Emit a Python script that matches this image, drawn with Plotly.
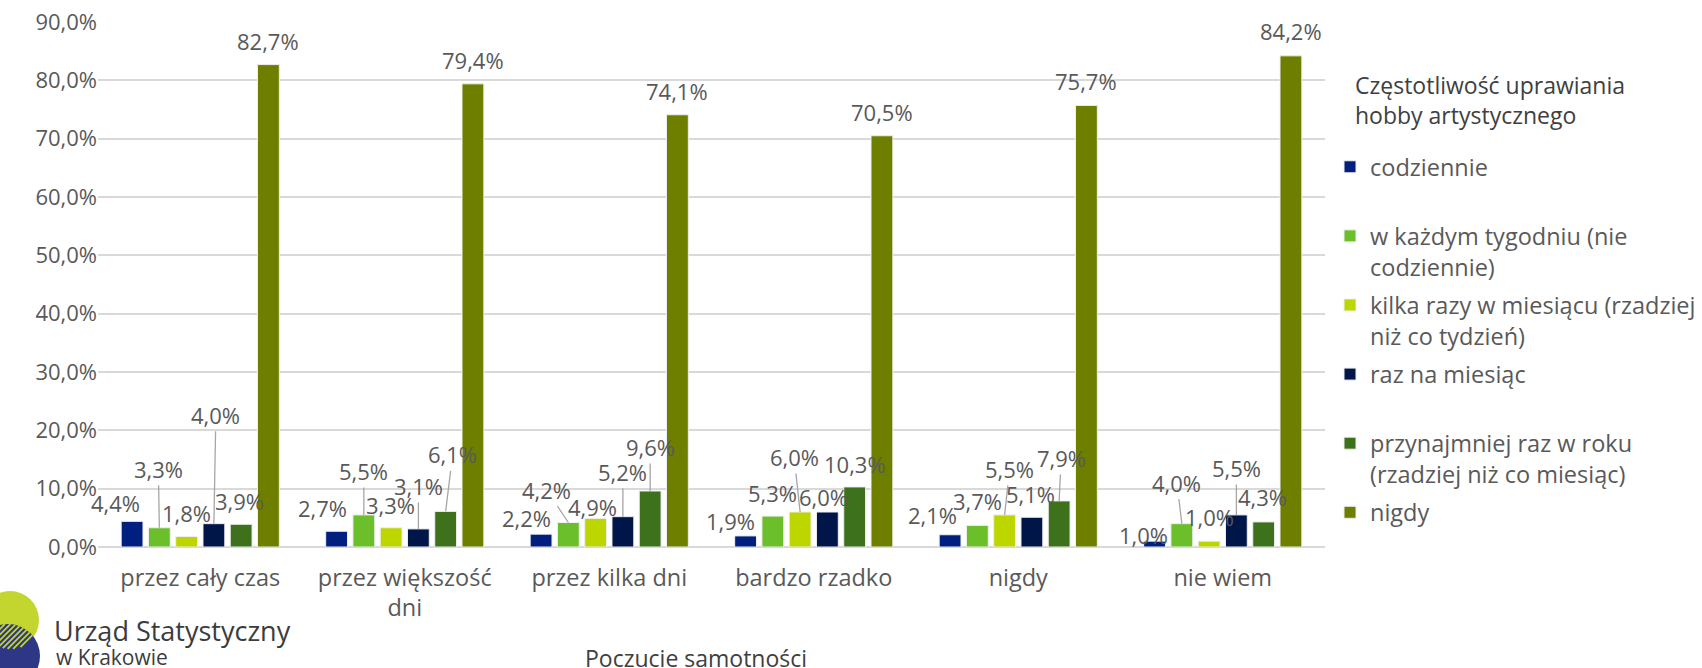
import numpy as np
import plotly.graph_objects as go

# --- data ---
categories = [
    "przez cały czas",
    "przez większość<br>dni",
    "przez kilka dni",
    "bardzo rzadko",
    "nigdy",
    "nie wiem",
]
series_names = [
    "codziennie",
    "w każdym tygodniu (nie<br>codziennie)",
    "kilka razy w miesiącu (rzadziej<br>niż co tydzień)",
    "raz na miesiąc",
    "przynajmniej raz w roku<br>(rzadziej niż co miesiąc)",
    "nigdy",
]
codziennie = [4.4, 2.7, 2.2, 1.9, 2.1, 1.0]
w_kazdym_tygodniu = [3.3, 5.5, 4.2, 5.3, 3.7, 4.0]
kilka_razy_w_miesiacu = [1.8, 3.3, 4.9, 6.0, 5.5, 1.0]
raz_na_miesiac = [4.0, 3.1, 5.2, 6.0, 5.1, 5.5]
raz_w_roku = [3.9, 6.1, 9.6, 10.3, 7.9, 4.3]
nigdy = [82.7, 79.4, 74.1, 70.5, 75.7, 84.2]
series_values = [codziennie, w_kazdym_tygodniu, kilka_razy_w_miesiacu,
                 raz_na_miesiac, raz_w_roku, nigdy]
y_ticks = [0, 10, 20, 30, 40, 50, 60, 70, 80, 90]
legend_title = "Częstotliwość uprawiania<br>hobby artystycznego"
x_title = "Poczucie samotności"

COLORS = ["#001f7e", "#6abf2b", "#bdd600", "#001548", "#3d711c", "#6e7f00"]
TEXT = "#595959"
GRID = "#d9d9d9"
LOGO_YELLOW = "#c3d52f"
LOGO_BLUE = "#2e3686"
FONT = "Open Sans"
FS_NUM = 22     # numbers (ticks, data labels)
FS_TXT = 23     # axis / legend titles
FS_CAT = 23.5   # category tick labels
FS_LEG = 23.5   # legend entries

W, H = 1702, 668
M_L, M_R, M_T, M_B = 98, 377, 22, 121
PLOT_W = W - M_L - M_R
PLOT_H = H - M_T - M_B
BARGAP = 0.2
SLOT_PX = PLOT_W / len(categories) * (1 - BARGAP) / len(series_values)

# per-label placement: (series, category) -> (dx, dy, leader line)
# dx/dy in px relative to the bar's top centre; default is just above the bar
DEFAULT_OFFSET = (0, -24, False)
LABEL_OFFSETS = {
    (0, 0): (-17, -18, False), (1, 0): (-1, -59, True), (3, 0): (2, -109, True),
    (4, 0): (-2, -23, False),
    (0, 1): (-14, -23, False), (1, 1): (0, -44, True), (2, 1): (-1, -23, False),
    (3, 1): (0, -43, True), (4, 1): (7, -57, True),
    (0, 2): (-15, -16, False), (1, 2): (-22, -33, True), (2, 2): (-3, -11, False),
    (3, 2): (0, -45, True), (4, 2): (0, -44, True),
    (0, 3): (-15, -15, False), (1, 3): (0, -23, False), (2, 3): (-6, -55, True),
    (3, 3): (-4, -15, False), (4, 3): (0, -23, False),
    (0, 4): (-18, -20, False), (1, 4): (0, -24, False), (2, 4): (5, -46, True),
    (3, 4): (-1, -23, False), (4, 4): (2, -43, True),
    (0, 5): (-11, -6, False), (1, 5): (-5, -41, True), (2, 5): (0, -24, False),
    (3, 5): (0, -47, True), (4, 5): (-1, -25, False), (5, 5): (0, -25, False),
}


def fmt(v):
    return f"{v:.1f}%".replace(".", ",")


def px_x(px):
    return (px - M_L) / PLOT_W


def px_y(py):
    return (H - M_B - py) / PLOT_H


def legend_label(name):
    # every legend entry gets two lines so the entries are spaced evenly
    return name if "<br>" in name else name + "<br>\u00a0"


fig = go.Figure()
for i, (name, vals) in enumerate(zip(series_names, series_values)):
    fig.add_trace(
        go.Bar(
            x=categories,
            y=vals,
            name=legend_label(name),
            legendgroup=f"s{i}",
            marker=dict(color=COLORS[i], line=dict(color="#eeeeee", width=1)),
            hoverinfo="skip",
        )
    )

annotations = []
for i, vals in enumerate(series_values):
    for j, v in enumerate(vals):
        dx, dy, leader = LABEL_OFFSETS.get((i, j), DEFAULT_OFFSET)
        shift = (i - (len(series_values) - 1) / 2) * SLOT_PX
        base = dict(x=categories[j], y=v, xref="x", yref="y", text=fmt(v),
                    font=dict(family=FONT, size=FS_NUM, color=TEXT))
        if leader:
            annotations.append(dict(base, showarrow=True, arrowhead=0, arrowwidth=1.3,
                                    arrowcolor="#a6a6a6", ax=dx, ay=dy, standoff=0,
                                    xshift=shift))
        else:
            annotations.append(dict(base, showarrow=False, xshift=shift + dx, yshift=-dy,
                                    xanchor="center", yanchor="middle"))

annotations += [
    dict(text=x_title, xref="paper", yref="paper", x=px_x(696), y=px_y(658),
         xanchor="center", yanchor="middle", showarrow=False,
         font=dict(family=FONT, size=FS_TXT, color="#404040")),
    dict(text=legend_title, xref="paper", yref="paper", x=px_x(1353), y=px_y(67),
         xanchor="left", yanchor="top", align="left", showarrow=False,
         font=dict(family=FONT, size=FS_TXT, color="#404040")),
    # logo text
    dict(text="Urząd Statystyczny", xref="paper", yref="paper",
         x=px_x(52), y=px_y(630), xanchor="left", yanchor="middle",
         showarrow=False, font=dict(family=FONT, size=27, color="#3c3c3c")),
    dict(text="w Krakowie", xref="paper", yref="paper",
         x=px_x(54), y=px_y(657), xanchor="left", yanchor="middle",
         showarrow=False, font=dict(family=FONT, size=21, color="#3c3c3c")),
]


def circle(cx, cy, r, color):
    return dict(type="circle", xref="paper", yref="paper", layer="above",
                x0=px_x(cx - r), x1=px_x(cx + r), y0=px_y(cy + r), y1=px_y(cy - r),
                fillcolor=color, line=dict(width=0))


def chord(p0, d, c, r):
    # parameter range of the line p0 + t*d that lies inside circle (c, r)
    off = p0 - c
    b = 2 * d.dot(off)
    cc = off.dot(off) - r * r
    disc = b * b - 4 * cc
    if disc <= 0:
        return None
    s = np.sqrt(disc)
    return (-b - s) / 2, (-b + s) / 2


YC, RY = np.array([10.0, 620.0]), 29
BC, RB = np.array([8.0, 656.0]), 32
shapes = [circle(*YC, RY, LOGO_YELLOW), circle(*BC, RB, LOGO_BLUE)]

# hatched overlap of the two logo circles
direction = np.array([1.0, -1.0]) / np.sqrt(2)
for x0 in np.arange(-40, 60, 5.5):
    p0 = np.array([x0, 636.0])
    a, b = chord(p0, direction, YC, RY), chord(p0, direction, BC, RB)
    if a is None or b is None:
        continue
    t0, t1 = max(a[0], b[0]), min(a[1], b[1])
    if t1 - t0 < 1:
        continue
    s, e = p0 + t0 * direction, p0 + t1 * direction
    shapes.append(dict(type="line", xref="paper", yref="paper", layer="above",
                       x0=px_x(s[0]), y0=px_y(s[1]), x1=px_x(e[0]), y1=px_y(e[1]),
                       line=dict(color=LOGO_YELLOW, width=1.8)))

fig.update_layout(
    width=W,
    height=H,
    margin=dict(l=M_L, r=M_R, t=M_T, b=M_B, autoexpand=False),
    paper_bgcolor="white",
    plot_bgcolor="white",
    barmode="group",
    bargap=BARGAP,
    bargroupgap=0.2,
    font=dict(family=FONT, size=FS_TXT, color=TEXT),
    xaxis=dict(range=[-0.5, len(categories) - 0.5], showgrid=False, showline=False,
               ticks="", ticklabelstandoff=14, fixedrange=True,
               tickfont=dict(family=FONT, size=FS_CAT, color=TEXT)),
    yaxis=dict(range=[0, 90], tickvals=y_ticks, ticktext=[fmt(v) for v in y_ticks],
               showgrid=True, gridcolor=GRID, gridwidth=2, zeroline=True,
               zerolinecolor=GRID, zerolinewidth=2, showline=False, ticks="", ticklen=0,
               ticklabelstandoff=0, fixedrange=True,
               tickfont=dict(family=FONT, size=FS_NUM, color=TEXT)),
    legend=dict(
        x=px_x(1330), y=px_y(145), xanchor="left", yanchor="top",
        font=dict(family=FONT, size=FS_LEG, color=TEXT),
        traceorder="grouped", tracegroupgap=5, valign="top",
        bgcolor="rgba(0,0,0,0)",
    ),
    annotations=annotations,
    shapes=shapes,
)

# the page body has a default 8px margin; drop it so the chart sits at 0,0
fig.write_html("out.html", config={"displayModeBar": False},
               post_script="document.body.style.margin='0';")
